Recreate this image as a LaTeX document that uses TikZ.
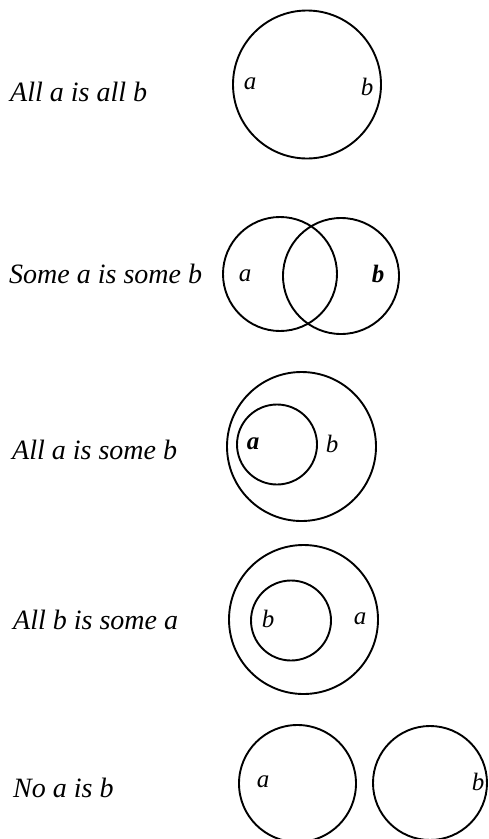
\documentclass[tikz,border=0pt]{standalone}
\usepackage{fontspec}
\setmainfont{Liberation Serif}
\begin{document}
\begin{tikzpicture}[x=1pt,y=-1pt,
  ring/.style={draw=black,line width=1.9pt,circle,inner sep=0pt,minimum size=#1},
  caption/.style={anchor=base west,inner sep=0pt,font=\fontsize{28}{30}\selectfont\itshape},
  letter/.style={inner sep=0pt,font=\fontsize{25}{27}\selectfont\itshape},
  bletter/.style={inner sep=0pt,font=\fontsize{25}{27}\selectfont\itshape\bfseries}]
\useasboundingbox (0,0) rectangle (488,839);
% Row 1
\node[caption] (t1) at (10,101) {All a is all b};
\node[ring=148pt] (c1) at (307,84.5) {};
\node[letter] (l1a) at (250,84) {a};
\node[letter] (l1b) at (367,87) {b};
% Row 2
\node[caption] (t2) at (9,283) {Some a is some b};
\node[ring=114pt] (c2a) at (280,274) {};
\node[ring=116pt] (c2b) at (341,276) {};
\node[letter] (l2a) at (245,276) {a};
\node[bletter] (l2b) at (378,274) {b};
% Row 3
\node[caption] (t3) at (12,459) {All a is some b};
\node[ring=149pt] (c3o) at (301.5,446.5) {};
\node[ring=80pt] (c3i) at (277,444.5) {};
\node[bletter] (l3a) at (253,444) {a};
\node[letter] (l3b) at (332,444) {b};
% Row 4
\node[caption] (t4) at (13,629) {All b is some a};
\node[ring=149pt] (c4o) at (303.5,619.5) {};
\node[ring=80pt] (c4i) at (291,620.5) {};
\node[letter] (l4b) at (268,619) {b};
\node[letter] (l4a) at (360,619) {a};
% Row 5
\node[caption] (t5) at (13,797) {No a is b};
\node[ring=117pt] (c5a) at (297.5,783.5) {};
\node[ring=114pt] (c5b) at (430,783) {};
\node[letter] (l5a) at (263,782) {a};
\node[letter] (l5b) at (478,782) {b};
\end{tikzpicture}
\end{document}
